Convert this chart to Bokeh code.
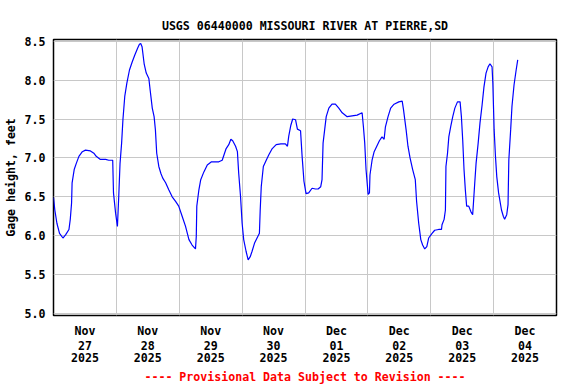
from bokeh.plotting import figure
from bokeh.models import Range1d, FixedTicker, NumeralTickFormatter, LinearAxis
from bokeh.embed import file_html
from bokeh.resources import INLINE

# Hours since 2025-11-27 00:00 and gage height (feet)
hours = [0.0, 0.5, 1.3, 2.3, 3.6, 4.6, 5.9, 6.4, 6.9, 7.1, 7.9, 8.7, 9.7, 11.0, 12.2, 14.1, 15.4, 16.3,
         17.9, 19.9, 21.1, 22.6, 22.9, 23.7, 24.4, 24.9, 25.4, 26.0, 26.5, 27.2, 28.0, 29.0, 30.0, 31.0,
         32.1, 32.8, 33.3, 33.8, 34.6, 35.4, 36.4, 36.9, 37.7, 38.4, 38.9, 39.4, 40.2, 41.0, 41.7, 42.8,
         44.0, 45.3, 46.6, 47.8, 49.1, 50.4, 51.7, 52.9, 54.2, 54.5, 54.7, 55.5, 56.2, 57.4, 58.7, 60.3,
         61.8, 63.1, 64.4, 65.1, 65.9, 66.9, 67.7, 68.4, 69.5, 70.2, 70.7, 71.4, 72.0, 72.6, 73.5, 74.3,
         75.1, 75.8, 76.8, 77.7, 78.6, 78.9, 79.3, 80.1, 81.2, 82.2, 83.5, 85.0, 86.8, 88.5, 89.3, 89.8,
         90.6, 91.3, 92.4, 93.1, 94.3, 94.9, 95.6, 96.4, 97.4, 98.7, 100.0, 101.0, 102.0, 102.5, 102.9,
         103.5, 104.1, 105.1, 106.3, 107.6, 108.9, 110.2, 112.1, 114.0, 115.9, 117.8, 118.3, 118.8, 119.3,
         120.1, 120.6, 120.8, 121.6, 122.4, 123.4, 124.4, 125.4, 126.2, 126.7, 127.7, 128.7, 130.0, 131.8,
         133.1, 133.6, 134.6, 135.3, 136.1, 137.1, 138.1, 138.6, 139.4, 140.2, 140.9, 141.7, 142.5, 143.2,
         144.5, 145.5, 147.0, 148.1, 148.3, 149.1, 149.6, 149.8, 150.4, 150.9, 151.6, 152.4, 153.2, 154.2,
         155.2, 155.7, 156.2, 156.7, 157.2, 157.7, 158.5, 159.3, 160.0, 160.3, 160.8, 161.3, 162.1, 162.8,
         163.6, 164.3, 165.1, 165.9, 166.6, 167.4, 167.7, 168.2, 168.7, 169.2, 169.9, 171.0, 171.7, 172.2,
         173.0, 173.5, 173.8, 174.5, 175.0, 175.8, 176.6, 177.2]
gage = [6.49, 6.33, 6.16, 6.03, 5.97, 6.01, 6.08, 6.21, 6.42, 6.68, 6.85, 6.93, 7.02, 7.08, 7.10, 7.09, 7.06, 7.02,
        6.98, 6.98, 6.97, 6.97, 6.55, 6.29, 6.12, 6.50, 6.93, 7.19, 7.49, 7.79, 7.96, 8.13, 8.23, 8.32,
        8.41, 8.46, 8.47, 8.43, 8.21, 8.09, 8.02, 7.87, 7.64, 7.53, 7.36, 7.06, 6.89, 6.80, 6.74, 6.68,
        6.59, 6.50, 6.44, 6.38, 6.25, 6.12, 5.95, 5.88, 5.83, 5.99, 6.38, 6.59, 6.72, 6.82, 6.91, 6.95,
        6.95, 6.95, 6.97, 7.04, 7.12, 7.17, 7.24, 7.22, 7.15, 7.08, 6.80, 6.50, 6.16, 5.95, 5.80, 5.69,
        5.73, 5.80, 5.91, 5.97, 6.03, 6.33, 6.63, 6.89, 6.97, 7.04, 7.12, 7.17, 7.18, 7.18, 7.15, 7.28,
        7.42, 7.50, 7.49, 7.37, 7.35, 7.02, 6.70, 6.54, 6.55, 6.61, 6.60, 6.60, 6.63, 6.72, 7.19,
        7.36, 7.53, 7.64, 7.69, 7.69, 7.64, 7.58, 7.53, 7.54, 7.55, 7.58, 7.40, 7.19, 6.85,
        6.53, 6.55, 6.78, 6.97, 7.08, 7.15, 7.22, 7.27, 7.24, 7.40, 7.53, 7.64, 7.69, 7.72,
        7.73, 7.62, 7.36, 7.15, 7.00, 6.85, 6.72, 6.44, 6.16, 5.95, 5.88, 5.83, 5.86, 5.97,
        6.03, 6.07, 6.08, 6.08, 6.14, 6.21, 6.33, 6.89, 7.06, 7.27, 7.40, 7.53, 7.64, 7.72,
        7.72, 7.53, 7.23, 6.85, 6.59, 6.38, 6.38, 6.31, 6.27, 6.42, 6.68, 6.93, 7.19, 7.45,
        7.68, 7.91, 8.09, 8.17, 8.21, 8.17, 7.96, 7.36, 7.02, 6.76, 6.55, 6.33, 6.25, 6.21,
        6.27, 6.40, 6.97, 7.36, 7.66, 7.94, 8.13, 8.26]

day_months = ["Nov", "Nov", "Nov", "Nov", "Dec", "Dec", "Dec", "Dec"]
day_numbers = ["27", "28", "29", "30", "01", "02", "03", "04"]
day_years = ["2025"] * 8
y_ticks = [5.0, 5.5, 6.0, 6.5, 7.0, 7.5, 8.0, 8.5]

title = "USGS 06440000 MISSOURI RIVER AT PIERRE,SD"
y_label = "Gage height, feet"
footer = "---- Provisional Data Subject to Revision ----"

FONT = "DejaVu Sans Mono"
FS = "11.6px"

p = figure(frame_width=503, frame_height=276, output_backend="svg", toolbar_location=None,
           min_border_left=51, min_border_right=22, min_border_top=39, min_border_bottom=69,
           x_range=Range1d(0, 192), y_range=Range1d(4.974, 8.522))

p.line(hours, gage, line_color="#0000ff", line_width=1.2)

p.title.text = title
p.title.align = "center"
p.title.text_font = FONT
p.title.text_font_size = FS
p.title.text_font_style = "bold"
p.title.text_color = "black"
p.title.standoff = 14

label_ticks = [12 + 24 * i for i in range(len(day_numbers))]
grid_ticks = [24 * i for i in range(len(day_numbers) + 1)]


def style_axis(ax, standoff):
    ax.major_tick_line_color = None
    ax.minor_tick_line_color = None
    ax.major_tick_out = 0
    ax.major_tick_in = 0
    ax.minor_tick_out = 0
    ax.minor_tick_in = 0
    ax.axis_line_color = None
    ax.major_label_standoff = standoff
    ax.major_label_text_font = FONT
    ax.major_label_text_font_size = FS
    ax.major_label_text_font_style = "bold"
    ax.major_label_text_color = "black"


def style_x(ax, labels, standoff):
    ax.ticker = FixedTicker(ticks=label_ticks)
    ax.major_label_overrides = {t: s for t, s in zip(label_ticks, labels)}
    style_axis(ax, standoff)


xa = p.xaxis[0]
style_x(xa, day_months, 8)
xa2 = LinearAxis()
style_x(xa2, day_numbers, 0)
p.add_layout(xa2, "below")
xa3 = LinearAxis()
style_x(xa3, day_years, 0)
p.add_layout(xa3, "below")
xa3.axis_label = footer
xa3.axis_label_text_font = FONT
xa3.axis_label_text_font_size = FS
xa3.axis_label_text_font_style = "bold"
xa3.axis_label_text_color = "red"
xa3.axis_label_standoff = 5

ya = p.yaxis[0]
ya.ticker = FixedTicker(ticks=y_ticks)
ya.formatter = NumeralTickFormatter(format="0.0")
style_axis(ya, 8)
ya.axis_label = y_label
ya.axis_label_text_font = FONT
ya.axis_label_text_font_size = FS
ya.axis_label_text_font_style = "bold"
ya.axis_label_text_color = "black"
ya.axis_label_standoff = 4

p.xgrid.ticker = FixedTicker(ticks=grid_ticks)
p.ygrid.ticker = FixedTicker(ticks=y_ticks)
p.grid.grid_line_color = "#c8c8c8"
p.grid.grid_line_width = 1

p.outline_line_color = "black"
p.outline_line_width = 1.5
p.outline_line_alpha = 1.0
p.background_fill_color = "white"
p.border_fill_color = "white"

open("out.html", "w").write(file_html(p, INLINE))
